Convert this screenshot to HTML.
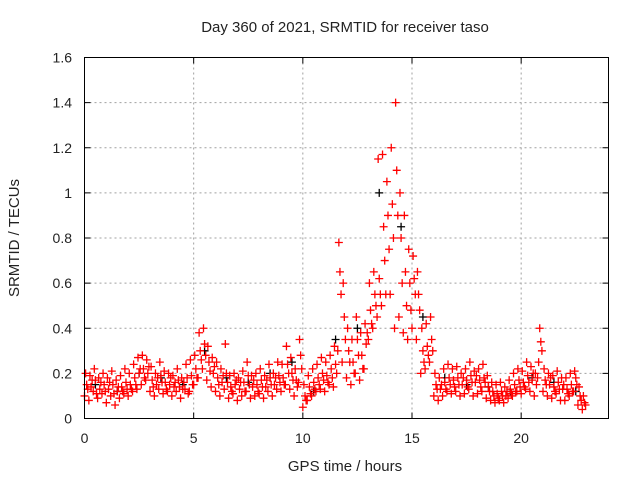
<!DOCTYPE html>
<html><head><meta charset="utf-8"><style>
body{margin:0;background:#fff;}
svg{display:block;font-family:"Liberation Sans",sans-serif;}
</style></head><body>
<svg id="chart" width="640" height="480" viewBox="0 0 640 480">
<text x="345" y="32" text-anchor="middle" font-size="15" fill="#222">Day 360 of 2021, SRMTID for receiver taso</text>
<text x="0" y="0" transform="translate(19,238) rotate(-90)" text-anchor="middle" font-size="15" fill="#222">SRMTID / TECUs</text>
<text x="345" y="471" text-anchor="middle" font-size="15" fill="#222">GPS time / hours</text>
<g id="grid"></g>
<g id="ticks"></g>
<g id="marks"></g>
<rect x="84.5" y="57.5" width="524" height="361" fill="none" stroke="#000" stroke-width="1"/>
</svg>
<script>
const xTicks=[0,5,10,15,20];
const yTicks=[0,0.2,0.4,0.6,0.8,1,1.2,1.4,1.6];
const yTickLabels=["0","0.2","0.4","0.6","0.8","1","1.2","1.4","1.6"];
const seriesLow=[.10,.08,.12,.09,.11,.07,.10,.06,.09,.11,.10,.12,.13,.15,.17,.12,.10,.13,.11,.12,.10,.12,.09,.13,.12,.15,.18,.22,.17,.14,.12,.10,.13,.09,.11,.08,.10,.12,.09,.10,.11,.09,.12,.10,.13,.12,.15,.13,.10,.16,.05,.08,.10,.12,.13,.12,.15,.14,.30,.25,.18,.15,.20,.17,.22,.35,.40,.45,.50,.55,.55,.40,.45,.38,.35,.40,.35,.20,.22,.25,.10,.08,.10,.12,.11,.12,.10,.11,.13,.10,.11,.12,.09,.08,.07,.08,.07,.09,.10,.12,.11,.13,.12,.10,.25,.12,.10,.09,.11,.08,.08,.10,.12,.06,.04];
const seriesMid=[.15,.14,.17,.13,.15,.13,.15,.12,.14,.16,.15,.18,.20,.22,.20,.17,.15,.19,.16,.15,.14,.17,.13,.18,.19,.22,.30,.33,.25,.20,.18,.16,.20,.14,.15,.13,.16,.19,.14,.15,.17,.14,.18,.15,.19,.18,.24,.20,.17,.28,.10,.14,.16,.18,.20,.19,.22,.24,.65,.45,.30,.25,.35,.28,.33,.48,.55,.62,.85,.90,.95,1.10,.80,.65,.60,.62,.55,.30,.32,.35,.15,.13,.16,.18,.17,.18,.15,.17,.19,.16,.17,.18,.14,.12,.11,.12,.10,.13,.15,.17,.16,.19,.17,.15,.34,.17,.15,.14,.16,.13,.13,.15,.18,.10,.07];
const seriesHigh=[.20,.19,.22,.18,.20,.18,.21,.17,.19,.22,.20,.24,.27,.28,.26,.23,.20,.25,.21,.20,.19,.22,.18,.24,.26,.28,.38,.40,.32,.27,.25,.22,.33,.19,.20,.18,.21,.25,.19,.20,.22,.19,.24,.20,.25,.24,.32,.27,.22,.35,.15,.19,.22,.24,.27,.25,.28,.32,.78,.60,.40,.35,.45,.38,.42,.60,.65,1.15,1.17,1.05,1.20,1.40,1.00,.90,.75,.72,.65,.40,.42,.45,.20,.18,.22,.24,.22,.23,.20,.22,.25,.21,.22,.24,.19,.16,.15,.16,.14,.17,.20,.22,.21,.25,.23,.20,.40,.22,.20,.19,.21,.18,.18,.20,.21,.14,.10];
const seriesExtra=[.13,.17,.11,.16,.12,.16,.11,.14,.12,.13,.13,.15,.22,.18,.23,.14,.18,.16,.13,.18,.16,.14,.16,.11,.15,.18,.26,.28,.21,.23,.15,.19,.16,.12,.17,.16,.12,.15,.17,.12,.14,.17,.15,.18,.16,.15,.20,.17,.14,.22,.08,.11,.13,.15,.17,.16,.18,.20,.55,.35,.25,.20,.28,.22,.38,.42,.50,.55,.70,.75,.80,.90,.60,.50,.48,.55,.48,.25,.28,.30,.13,.15,.13,.15,.14,.15,.18,.14,.16,.19,.14,.16,.12,.10,.09,.10,.12,.11,.12,.14,.14,.16,.20,.18,.30,.15,.18,.12,.13,.15,.11,.12,.15,.08,.06];
const blackHours=[0.5,1.5,2.5,3.5,4.5,5.5,6.5,7.5,8.5,9.5,10.5,11.5,12.5,13.5,14.5,15.5,16.5,17.5,18.5,19.5,20.5,21.5,22.5];
const blackValues=[.15,.12,.20,.18,.15,.30,.18,.16,.20,.25,.12,.35,.40,1.0,.85,.45,.18,.15,.14,.12,.18,.16,.12];
const NS='http://www.w3.org/2000/svg';
const X0=84.5,X1=608.5,Y0=418.5,Y1=57.5,XMAX=24,YMAX=1.6;
function xs(t){return X0+(X1-X0)*t/XMAX;}
function ys(v){return Y0-(Y0-Y1)*v/YMAX;}
function mk(tag,at,parent){const e=document.createElementNS(NS,tag);for(const k in at)e.setAttribute(k,at[k]);parent.appendChild(e);return e;}
const grid=document.getElementById('grid'),ticks=document.getElementById('ticks'),marks=document.getElementById('marks');
xTicks.forEach(t=>{const x=xs(t);
 if(t>0){const g=mk('line',{x1:x,x2:x,y1:Y1,y2:Y0,stroke:'#a0a0a0','stroke-dasharray':'2,3'},grid);
 
 }
 mk('line',{x1:x,x2:x,y1:Y0,y2:Y0-6,stroke:'#000'},ticks);
 mk('line',{x1:x,x2:x,y1:Y1,y2:Y1+6,stroke:'#000'},ticks);
 const l=mk('text',{x:x,y:443,'text-anchor':'middle','font-size':14,fill:'#222'},ticks);l.textContent=t;
 
 
});
yTicks.forEach((v,i)=>{const y=ys(v);
 if(v>0&&v<YMAX){const g=mk('line',{x1:X0,x2:X1,y1:y,y2:y,stroke:'#a0a0a0','stroke-dasharray':'2,3'},grid);
 
 }
 mk('line',{x1:X0,x2:X0+6,y1:y,y2:y,stroke:'#000'},ticks);
 mk('line',{x1:X1,x2:X1-6,y1:y,y2:y,stroke:'#000'},ticks);
 const l=mk('text',{x:72,y:y+5,'text-anchor':'end','font-size':14,fill:'#222'},ticks);l.textContent=yTickLabels[i];
 
 
});
function plus(t,v,color,name){const x=xs(t),y=ys(v);
 const p=mk('path',{d:`M${x-4},${y}H${x+4}M${x},${y-4}V${y+4}`,stroke:color,'stroke-width':1.3,fill:'none'},marks);
 
 }
blackHours.forEach((t,i)=>plus(t,blackValues[i],'#000','black-point'));
seriesLow.forEach((v,i)=>plus(i*0.2,v,'#f00','red-point'));
seriesMid.forEach((v,i)=>plus(i*0.2+0.1,v,'#f00','red-point'));
seriesHigh.forEach((v,i)=>plus(i*0.2+0.05,v,'#f00','red-point'));
seriesExtra.forEach((v,i)=>plus(i*0.2+0.15,v,'#f00','red-point'));
</script>
</body></html>
